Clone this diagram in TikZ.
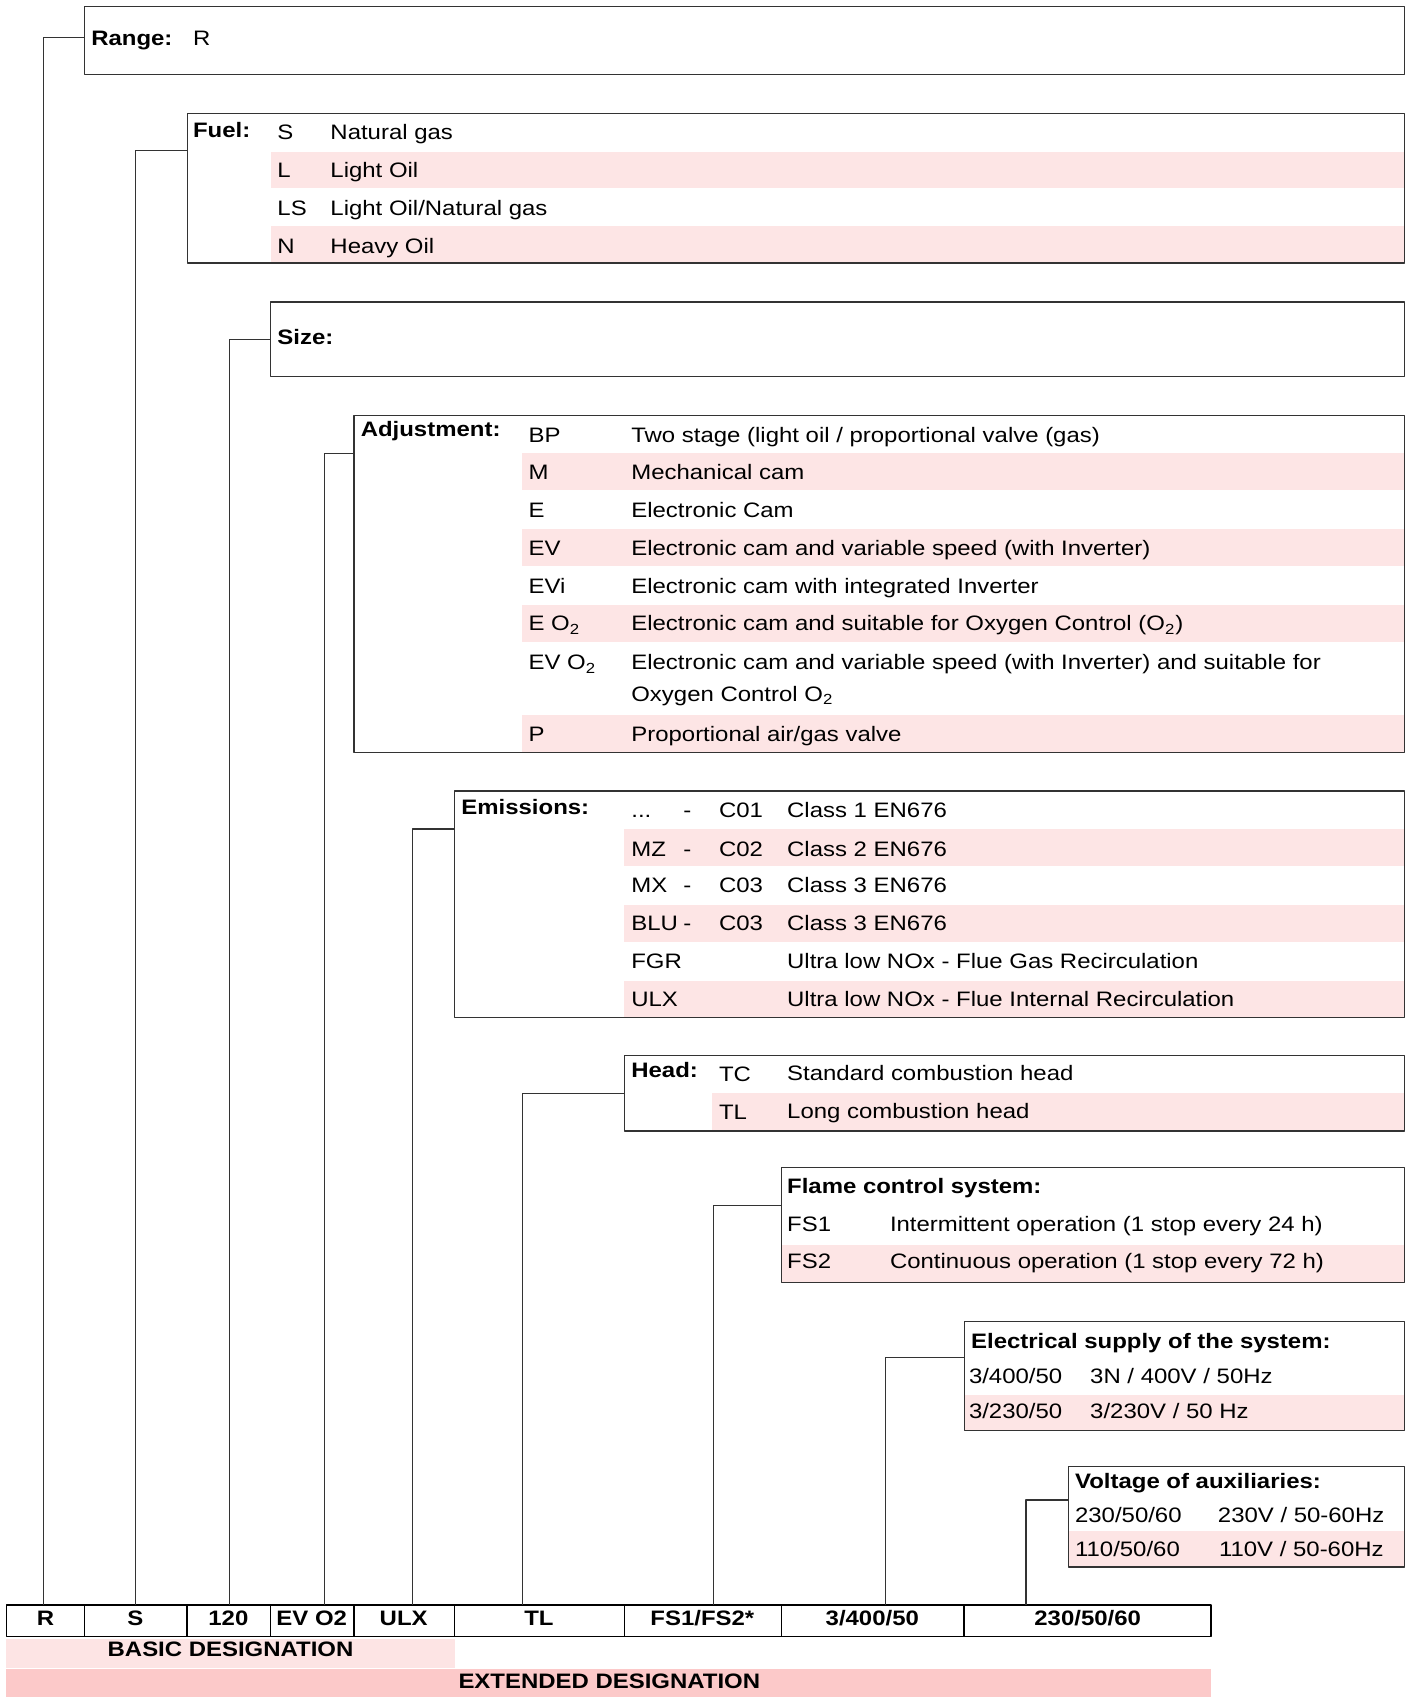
\documentclass[tikz,border=0pt]{standalone}
\usepackage{fontspec}
\setmainfont{Liberation Sans}[FakeStretch=1.145]
\definecolor{rowpink}{RGB}{253,229,229}
\definecolor{basicpink}{RGB}{253,228,228}
\definecolor{extpink}{RGB}{252,201,201}

\begin{document}
\begin{tikzpicture}[x=0.02cm, y=-0.02cm, font=\fontsize{11}{13}\selectfont, line join=round,
	box/.style={draw=black!80, line width=0.7pt},
	link/.style={draw=black!80, line width=0.6pt},
	lbl/.style={anchor=base west, inner sep=0pt},
	hd/.style={lbl, font=\fontsize{11}{13}\selectfont\bfseries},
	cell/.style={anchor=base, inner sep=0pt, font=\fontsize{11}{13}\selectfont\bfseries}]
	\useasboundingbox (0,0) rectangle (1304,1568);

	% Range
	\draw[box] (78,6) rectangle (1298,69);
	\node[hd] (range) at (84,42) {Range:};
	\node[lbl] (range-r) at (178,42) {R};
	\coordinate (range-in) at (78,35);

	% Fuel
	\fill[rowpink] (250,140) rectangle (1298,174);
	\fill[rowpink] (250,209) rectangle (1298,243);
	\draw[box] (173,105) rectangle (1298,243);
	\node[hd] (fuel) at (178,127) {Fuel:};
	\foreach \c/\t [count=\i] in {S/{Natural gas}, L/{Light Oil}, LS/{Light Oil/Natural gas}, N/{Heavy Oil}}{
		\node[lbl] (fuel-c\i) at (256,94+35*\i) {\c};
		\node[lbl] (fuel-t\i) at (305,94+35*\i) {\t};
	}
	\coordinate (fuel-in) at (173,139);

	% Size
	\draw[box] (250,279) rectangle (1298,348);
	\node[hd] (size) at (256,318) {Size:};
	\coordinate (size-in) at (250,314);

	% Adjustment
	\foreach \y in {419,489,559,661} \fill[rowpink] (482,\y) rectangle (1298,\y+34);
	\draw[box] (327,384) rectangle (1298,695);
	\node[hd] (adj) at (333,403) {Adjustment:};
	\foreach \y/\c/\t [count=\i] in {409/BP/{Two stage (light oil / proportional valve (gas)},
		443/M/{Mechanical cam}, 478/E/{Electronic Cam},
		513/EV/{Electronic cam and variable speed (with Inverter)},
		548/EVi/{Electronic cam with integrated Inverter},
		583/{E O\textsubscript{2}}/{Electronic cam and suitable for Oxygen Control (O\textsubscript{2})},
		619/{EV O\textsubscript{2}}/{Electronic cam and variable speed (with Inverter) and suitable for},
		685/P/{Proportional air/gas valve}}{
		\node[lbl] (adj-c\i) at (488,\y) {\c};
		\node[lbl] (adj-t\i) at (583,\y) {\t};
	}
	\node[lbl] (adj-t7b) at (583,648) {Oxygen Control O\textsubscript{2}};
	\coordinate (adj-in) at (327,419);

	% Emissions
	\foreach \y in {766,836,906} \fill[rowpink] (577,\y) rectangle (1298,\y+34);
	\draw[box] (420,731) rectangle (1298,940);
	\node[hd] (emi) at (426,753) {Emissions:};
	\node[lbl] (emi-c1) at (583,755) {...};
	\node[lbl] (emi-d1) at (631,755) {-};
	\node[lbl] (emi-k1) at (664,755) {C01};
	\node[lbl] (emi-t1) at (727,755) {Class 1 EN676};
	\foreach \y/\c/\k/\t [count=\i from 2] in {791/MZ/C02/{Class 2 EN676},
		825/MX/C03/{Class 3 EN676}, 860/BLU/C03/{Class 3 EN676}}{
		\node[lbl] (emi-c\i) at (583,\y) {\c};
		\node[lbl] (emi-d\i) at (631,\y) {-};
		\node[lbl] (emi-k\i) at (664,\y) {\k};
		\node[lbl] (emi-t\i) at (727,\y) {\t};
	}
	\node[lbl] (emi-c5) at (583,895) {FGR};
	\node[lbl] (emi-t5) at (727,895) {Ultra low NOx - Flue Gas Recirculation};
	\node[lbl] (emi-c6) at (583,930) {ULX};
	\node[lbl] (emi-t6) at (727,930) {Ultra low NOx - Flue Internal Recirculation};
	\coordinate (emi-in) at (420,766);

	% Head
	\fill[rowpink] (658,1010) rectangle (1298,1045);
	\draw[box] (577,975) rectangle (1298,1045);
	\node[hd] (head) at (583,996) {Head:};
	\node[lbl] (head-c1) at (664,999) {TC};
	\node[lbl] (head-t1) at (727,998) {Standard combustion head};
	\node[lbl] (head-c2) at (664,1034) {TL};
	\node[lbl] (head-t2) at (727,1033) {Long combustion head};
	\coordinate (head-in) at (577,1010);

	% Flame control
	\fill[rowpink] (722,1150) rectangle (1298,1185);
	\draw[box] (722,1079) rectangle (1298,1185);
	\node[hd] (flame) at (727,1103) {Flame control system:};
	\node[lbl] (flame-c1) at (727,1138) {FS1};
	\node[lbl] (flame-t1) at (822,1138) {Intermittent operation (1 stop every 24 h)};
	\node[lbl] (flame-c2) at (727,1172) {FS2};
	\node[lbl] (flame-t2) at (822,1172) {Continuous operation (1 stop every 72 h)};
	\coordinate (flame-in) at (722,1114);

	% Electrical supply
	\fill[rowpink] (891,1289) rectangle (1298,1322);
	\draw[box] (891,1221) rectangle (1298,1322);
	\node[hd] (elec) at (897,1246) {Electrical supply of the system:};
	\node[lbl] (elec-c1) at (895,1278) {3/400/50};
	\node[lbl] (elec-t1) at (1007,1278) {3N / 400V / 50Hz};
	\node[lbl] (elec-c2) at (895,1311) {3/230/50};
	\node[lbl] (elec-t2) at (1007,1311) {3/230V / 50 Hz};
	\coordinate (elec-in) at (891,1254);

	% Voltage of auxiliaries
	\fill[rowpink] (987,1415) rectangle (1298,1448);
	\draw[box] (987,1355) rectangle (1298,1448);
	\node[hd] (volt) at (993,1375) {Voltage of auxiliaries:};
	\node[lbl] (volt-c1) at (993,1407) {230/50/60};
	\node[lbl] (volt-t1) at (1125,1407) {230V / 50-60Hz};
	\node[lbl] (volt-c2) at (993,1438) {110/50/60};
	\node[lbl] (volt-t2) at (1126,1438) {110V / 50-60Hz};
	\coordinate (volt-in) at (987,1386);

	% designation bar
	\fill[basicpink] (6,1514) rectangle (420,1541);
	\fill[extpink] (6,1542) rectangle (1119,1568);
	\draw[black, line width=0.9pt] (6,1483) rectangle (1119,1512);
	\foreach \x in {78,173,250,327,420,577,722,891}
		\draw[black, line width=0.9pt] (\x,1483) -- (\x,1512);
	\foreach \x/\t/\n in {42/R/r, 125/S/s, 211/120/size, 288/EV O2/adj, 373/ULX/emi, 498/TL/head,
		649/{FS1/FS2*}/flame, 806/{3/400/50}/elec, 1005/{230/50/60}/volt}
		\node[cell] (cell-\n) at (\x,1502) {\t};
	\node[cell] (basic) at (213,1531) {BASIC DESIGNATION};
	\node[cell] (ext) at (563,1560) {EXTENDED DESIGNATION};

	% connectors
	\foreach \n/\x in {range/40, fuel/125, size/212, adj/300, emi/381, head/483, flame/659, elec/818, volt/948}{
		\coordinate (\n-out) at (\x,1483);
		\draw[link] (\n-in) -| (\n-out);
	}
\end{tikzpicture}
\end{document}
